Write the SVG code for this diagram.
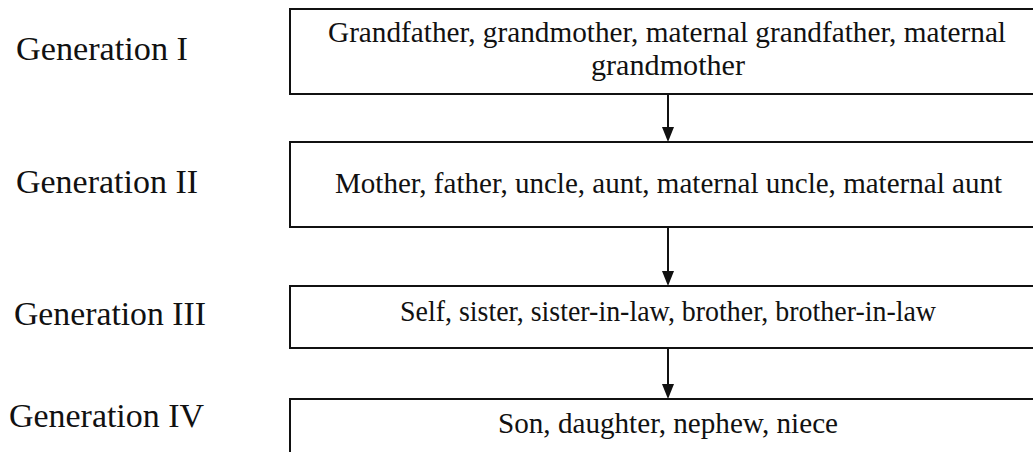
<svg xmlns="http://www.w3.org/2000/svg" width="1033" height="452" viewBox="0 0 1033 452">
  <defs>
    <style>
      .box { fill: #ffffff; stroke: #111111; stroke-width: 2; }
      .lbl { font-family: "Liberation Serif", "Times New Roman", serif; font-size: 34px; fill: #111111; }
      .txt { font-family: "Liberation Serif", "Times New Roman", serif; font-size: 29px; fill: #111111; text-anchor: middle; }
      .conn { stroke: #111111; stroke-width: 2; fill: none; }
      .head { fill: #111111; stroke: none; }
    </style>
  </defs>
  <rect width="1033" height="452" fill="#ffffff"/>

  <g id="labels">
    <text class="lbl" x="16" y="60" textLength="172" lengthAdjust="spacingAndGlyphs">Generation I</text>
    <text class="lbl" x="16" y="193" textLength="182" lengthAdjust="spacingAndGlyphs">Generation II</text>
    <text class="lbl" x="14" y="325" textLength="192" lengthAdjust="spacingAndGlyphs">Generation III</text>
    <text class="lbl" x="9" y="427" textLength="195" lengthAdjust="spacingAndGlyphs">Generation IV</text>
  </g>

  <g id="node-gen1">
    <rect class="box" x="290" y="9" width="760" height="85"/>
    <text class="txt" x="667" y="42" textLength="678" lengthAdjust="spacingAndGlyphs">Grandfather, grandmother, maternal grandfather, maternal</text>
    <text class="txt" x="668" y="75" textLength="154" lengthAdjust="spacingAndGlyphs">grandmother</text>
  </g>

  <g id="node-gen2">
    <rect class="box" x="290" y="142" width="760" height="85"/>
    <text class="txt" x="668.5" y="193" textLength="667" lengthAdjust="spacingAndGlyphs">Mother, father, uncle, aunt, maternal uncle, maternal aunt</text>
  </g>

  <g id="node-gen3">
    <rect class="box" x="290" y="286" width="760" height="62"/>
    <text class="txt" x="668" y="321" textLength="536" lengthAdjust="spacingAndGlyphs">Self, sister, sister-in-law, brother, brother-in-law</text>
  </g>

  <g id="node-gen4">
    <rect class="box" x="290" y="399" width="760" height="80"/>
    <text class="txt" x="668" y="433" textLength="340" lengthAdjust="spacingAndGlyphs">Son, daughter, nephew, niece</text>
  </g>

  <g id="connectors">
    <line class="conn" x1="668" y1="95" x2="668" y2="130"/>
    <polygon class="head" points="662,127 674,127 668,142"/>
    <line class="conn" x1="668" y1="228" x2="668" y2="274"/>
    <polygon class="head" points="662,271 674,271 668,286"/>
    <line class="conn" x1="668" y1="349" x2="668" y2="386"/>
    <polygon class="head" points="662,384 674,384 668,399"/>
  </g>
</svg>
